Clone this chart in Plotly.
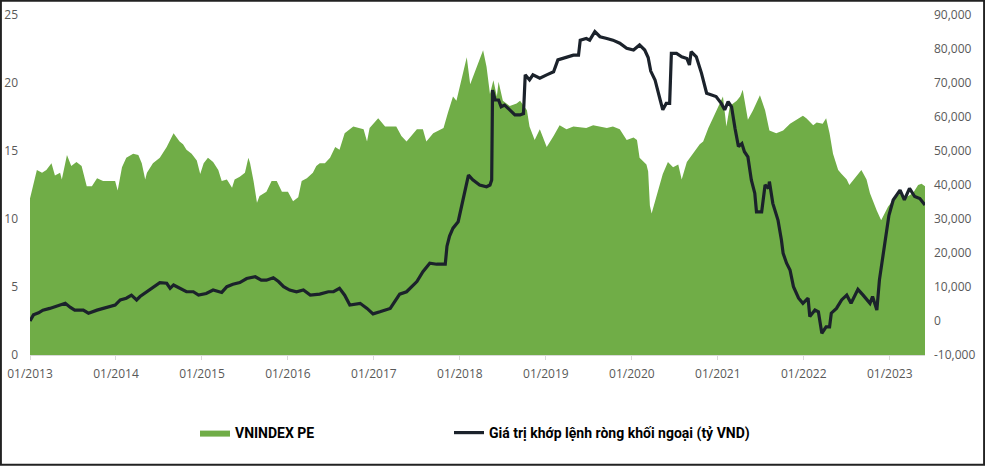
import plotly.graph_objects as go

# VNINDEX PE (left axis) — time in decimal years
pe_t = [2013.00, 2013.04, 2013.08, 2013.14, 2013.19, 2013.25, 2013.29, 2013.35, 2013.37, 2013.43,
        2013.48, 2013.54, 2013.60, 2013.66, 2013.72, 2013.78, 2013.85, 2013.93, 2013.99, 2014.02,
        2014.07, 2014.12, 2014.20, 2014.26, 2014.30, 2014.34, 2014.36, 2014.43, 2014.51, 2014.59,
        2014.67, 2014.74, 2014.78, 2014.82, 2014.88, 2014.94, 2014.98, 2015.02, 2015.07, 2015.13,
        2015.19, 2015.23, 2015.29, 2015.35, 2015.38, 2015.44, 2015.50, 2015.54, 2015.56, 2015.60,
        2015.64, 2015.67, 2015.75, 2015.81, 2015.87, 2015.93, 2016.00, 2016.06, 2016.12, 2016.16,
        2016.22, 2016.29, 2016.33, 2016.37, 2016.43, 2016.49, 2016.55, 2016.60, 2016.66, 2016.76,
        2016.88, 2016.92, 2016.95, 2017.05, 2017.13, 2017.26, 2017.32, 2017.38, 2017.50, 2017.57,
        2017.61, 2017.69, 2017.81, 2017.86, 2017.92, 2017.96, 2018.00, 2018.08, 2018.12, 2018.15,
        2018.21, 2018.27, 2018.31, 2018.35, 2018.39, 2018.43, 2018.45, 2018.50, 2018.58, 2018.66,
        2018.70, 2018.78, 2018.81, 2018.87, 2018.93, 2019.01, 2019.09, 2019.16, 2019.24, 2019.32,
        2019.47, 2019.55, 2019.71, 2019.78, 2019.86, 2019.94, 2020.02, 2020.06, 2020.09, 2020.17,
        2020.19, 2020.21, 2020.23, 2020.29, 2020.36, 2020.42, 2020.48, 2020.54, 2020.58, 2020.64,
        2020.71, 2020.79, 2020.83, 2020.89, 2020.95, 2021.02, 2021.06, 2021.10, 2021.14, 2021.22,
        2021.26, 2021.29, 2021.35, 2021.41, 2021.49, 2021.55, 2021.60, 2021.68, 2021.76, 2021.84,
        2021.92, 2021.99, 2022.03, 2022.11, 2022.15, 2022.22, 2022.26, 2022.30, 2022.34, 2022.40,
        2022.44, 2022.50, 2022.53, 2022.61, 2022.67, 2022.73, 2022.77, 2022.85, 2022.90, 2022.94,
        2022.98, 2023.04, 2023.12, 2023.19, 2023.27, 2023.33, 2023.37, 2023.41]
pe_v = [11.5, 12.5, 13.6, 13.4, 13.6, 14.1, 13.2, 13.4, 12.9, 14.7,
        13.9, 14.2, 13.9, 12.4, 12.4, 13.0, 12.8, 12.8, 12.8, 12.1,
        13.8, 14.5, 14.8, 14.7, 14.1, 12.9, 13.4, 14.1, 14.5, 15.3,
        16.3, 15.7, 15.5, 15.1, 14.8, 14.3, 13.3, 14.1, 14.5, 14.2,
        13.6, 12.8, 12.9, 12.3, 12.9, 13.1, 13.4, 14.5, 14.1, 12.8,
        11.2, 11.7, 12.0, 12.8, 12.8, 12.0, 12.0, 11.3, 11.6, 12.8,
        13.0, 13.4, 13.9, 14.1, 14.1, 14.5, 15.3, 15.1, 16.3, 16.8,
        16.6, 15.7, 16.7, 17.4, 16.8, 16.8, 16.1, 15.7, 16.6, 16.6,
        15.7, 16.3, 16.7, 17.8, 19.0, 18.7, 19.7, 21.9, 19.9, 20.4,
        21.3, 22.4, 21.2, 19.2, 20.2, 19.0, 20.1, 18.7, 18.3, 18.5,
        18.7, 18.0, 16.8, 15.8, 16.6, 15.3, 16.1, 16.9, 16.6, 16.8,
        16.7, 16.9, 16.7, 16.8, 16.6, 15.8, 16.0, 15.8, 14.5, 14.0,
        13.5, 11.0, 10.4, 11.8, 13.3, 14.2, 13.8, 14.0, 12.9, 14.2,
        14.8, 15.5, 15.7, 16.7, 17.5, 18.5, 19.0, 16.8, 18.3, 18.7,
        19.0, 19.5, 17.3, 18.0, 19.1, 18.0, 16.5, 16.3, 16.5, 17.0,
        17.3, 17.6, 17.4, 16.9, 17.1, 17.0, 17.4, 16.3, 14.8, 13.6,
        13.3, 12.9, 12.5, 13.1, 13.6, 12.9, 11.9, 10.6, 9.9, 10.4,
        10.9, 11.4, 11.9, 11.6, 11.9, 12.5, 12.6, 12.4]

# Foreign net matched value (right axis, tỷ VND)
net_t = [2013.00, 2013.04, 2013.10, 2013.15, 2013.23, 2013.35, 2013.41, 2013.47, 2013.52, 2013.62,
         2013.68, 2013.78, 2013.85, 2013.95, 2013.99, 2014.05, 2014.12, 2014.18, 2014.24, 2014.28,
         2014.36, 2014.43, 2014.51, 2014.59, 2014.63, 2014.67, 2014.74, 2014.82, 2014.90, 2014.96,
         2015.05, 2015.13, 2015.23, 2015.29, 2015.36, 2015.44, 2015.52, 2015.62, 2015.69, 2015.75,
         2015.83, 2015.89, 2015.95, 2016.02, 2016.10, 2016.18, 2016.26, 2016.37, 2016.47, 2016.53,
         2016.60, 2016.66, 2016.72, 2016.84, 2016.92, 2016.99, 2017.07, 2017.19, 2017.30, 2017.38,
         2017.50, 2017.57, 2017.65, 2017.73, 2017.83, 2017.85, 2017.88, 2017.92, 2017.98, 2018.04,
         2018.10, 2018.15, 2018.23, 2018.31, 2018.35, 2018.37, 2018.38, 2018.41, 2018.45, 2018.48,
         2018.52, 2018.58, 2018.64, 2018.70, 2018.74, 2018.76, 2018.81, 2018.85, 2018.93, 2019.01,
         2019.09, 2019.14, 2019.24, 2019.32, 2019.38, 2019.40, 2019.47, 2019.51, 2019.57, 2019.63,
         2019.71, 2019.78, 2019.86, 2019.94, 2020.02, 2020.09, 2020.15, 2020.19, 2020.22, 2020.27,
         2020.33, 2020.36, 2020.40, 2020.44, 2020.46, 2020.52, 2020.58, 2020.64, 2020.67, 2020.69,
         2020.75, 2020.81, 2020.87, 2020.93, 2020.98, 2021.04, 2021.08, 2021.12, 2021.16, 2021.20,
         2021.24, 2021.28, 2021.31, 2021.35, 2021.39, 2021.43, 2021.45, 2021.51, 2021.55, 2021.59,
         2021.60, 2021.64, 2021.70, 2021.74, 2021.76, 2021.80, 2021.84, 2021.88, 2021.94, 2021.99,
         2022.05, 2022.07, 2022.13, 2022.17, 2022.21, 2022.26, 2022.30, 2022.32, 2022.38, 2022.44,
         2022.50, 2022.55, 2022.63, 2022.69, 2022.77, 2022.80, 2022.85, 2022.88, 2022.92, 2022.96,
         2022.99, 2023.04, 2023.12, 2023.17, 2023.23, 2023.29, 2023.35, 2023.41]
net_v = [0, 1800, 2400, 3200, 3700, 4700, 5200, 4000, 3200, 3200,
         2300, 3200, 3700, 4200, 4700, 6200, 6700, 7600, 6200, 7200,
         8600, 10100, 11300, 11100, 9600, 10600, 9600, 8600, 8600, 7600,
         8100, 9100, 8400, 10100, 10800, 11300, 12500, 13000, 12000, 12000,
         12700, 11600, 10100, 9100, 8600, 9100, 7600, 7900, 8600, 8600,
         9600, 7600, 4700, 5200, 3700, 2100, 2700, 3700, 7900, 8600,
         11600, 14500, 17000, 16700, 16700, 22000, 25000, 27300, 29200, 35600,
         42900, 41500, 40000, 39500, 40000, 41500, 67900, 65000, 65000, 63000,
         63500, 62100, 60600, 60600, 61000, 72400, 70900, 72400, 71400, 72400,
         73300, 76800, 77700, 78200, 78200, 82600, 83100, 82600, 85100, 83600,
         83100, 82600, 81700, 80200, 79700, 81200, 79700, 77500, 73500, 70900,
         65000, 62100, 64000, 64000, 78700, 78700, 77700, 77200, 75300, 79200,
         77700, 72900, 67000, 66500, 66000, 64000, 62100, 64500, 63000, 56700,
         51300, 52200, 49800, 48300, 41500, 37600, 32100, 32100, 40000, 39000,
         41000, 34600, 29700, 23800, 19900, 17000, 15000, 10100, 6700, 5200,
         6700, 1300, 3200, 2700, -3600, -1700, -1700, 2300, 3700, 6200,
         7600, 5200, 9300, 7600, 5200, 7200, 3200, 12100, 18900, 26800,
         31000, 35600, 38500, 35600, 39000, 36600, 36000, 34100]

x_tick_vals = list(range(2013, 2024))
x_tick_text = ["01/%d" % y for y in x_tick_vals]
y2_tick_vals = list(range(-10000, 90001, 10000))
y2_tick_text = ["-10,000", "0", "10,000", "20,000", "30,000", "40,000", "50,000",
                "60,000", "70,000", "80,000", "90,000"]

GREEN = "#70AD47"
LINE = "#1B222B"
TICKFONT = dict(family="Open Sans, Noto Sans, sans-serif", size=12, color="#595959")
LEGFONT = dict(family="Roboto, sans-serif", size=14, color="#000000", weight="bold")

fig = go.Figure()
fig.add_trace(go.Scatter(
    x=pe_t, y=pe_v, name="VNINDEX PE", mode="lines",
    fill="tozeroy", fillcolor=GREEN, line=dict(width=0, color=GREEN),
    yaxis="y", legend="legend",
))
fig.add_trace(go.Scatter(
    x=net_t, y=net_v, name="Giá trị khớp lệnh ròng khối ngoại (tỷ VND)", mode="lines",
    line=dict(width=3.2, color=LINE), yaxis="y2", legend="legend2",
))

W, H = 985, 466
ML, MR, MT, MB = 30, 60, 15, 111
PW, PH = W - ML - MR, H - MT - MB
LEG_Y = -(433 - (MT + PH)) / PH

fig.update_layout(
    width=W, height=H,
    margin=dict(l=ML, r=MR, t=MT, b=MB, pad=0),
    paper_bgcolor="white", plot_bgcolor="white",
    showlegend=True,
    legend=dict(
        orientation="h", x=(195 - ML) / PW, xanchor="left", y=LEG_Y, yanchor="middle",
        font=LEGFONT, bgcolor="rgba(0,0,0,0)",
    ),
    legend2=dict(
        orientation="h", x=(449 - ML) / PW, xanchor="left", y=LEG_Y, yanchor="middle",
        font=LEGFONT, bgcolor="rgba(0,0,0,0)",
    ),
    xaxis=dict(
        range=[2013.0, 2023.41], tickmode="array", tickvals=x_tick_vals, ticktext=x_tick_text,
        showgrid=False, zeroline=False, showline=True, linecolor="#D9D9D9", linewidth=1,
        ticks="outside", ticklen=4, tickcolor="#D9D9D9", tickfont=TICKFONT, automargin=False,
        ticklabelstandoff=4,
    ),
    yaxis=dict(
        range=[0, 25], dtick=5, tick0=0, showgrid=False, zeroline=False, showline=False,
        tickfont=TICKFONT, ticklabelstandoff=11, automargin=False,
    ),
    yaxis2=dict(
        range=[-10000, 90000], tickmode="array", tickvals=y2_tick_vals, ticktext=y2_tick_text,
        overlaying="y", side="right", showgrid=False, zeroline=False, showline=False,
        tickfont=TICKFONT, ticklabelstandoff=8, automargin=False,
    ),
    shapes=[dict(
        type="rect", xref="paper", yref="paper",
        x0=-ML / PW + 0.001, x1=(PW + MR) / PW - 0.001,
        y0=-MB / PH + 0.004, y1=(PH + MT) / PH - 0.002,
        line=dict(color="#222222", width=2), fillcolor="rgba(0,0,0,0)", layer="above",
    )],
)

fig.write_html("out.html")
